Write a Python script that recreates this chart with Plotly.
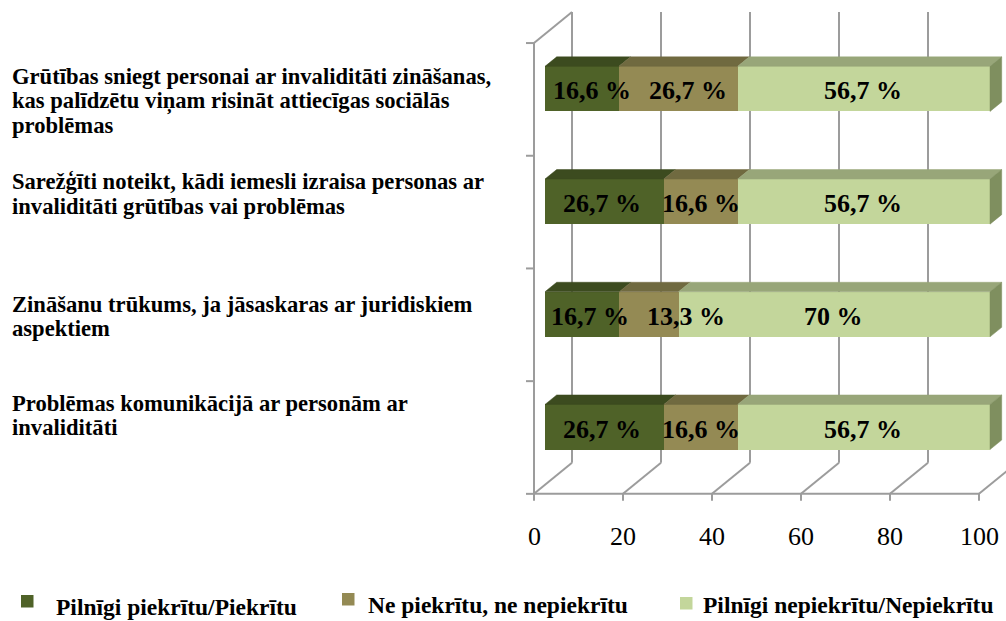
import plotly.graph_objects as go

# ---------------- data ----------------
categories = [
    "Grūtības sniegt personai ar invaliditāti zināšanas,<br>kas palīdzētu viņam risināt attiecīgas sociālās<br>problēmas",
    "Sarežģīti noteikt, kādi iemesli izraisa personas ar<br>invaliditāti grūtības vai problēmas",
    "Zināšanu trūkums, ja jāsaskaras ar juridiskiem<br>aspektiem",
    "Problēmas komunikācijā ar personām ar<br>invaliditāti",
]
agree = [16.6, 26.7, 16.7, 26.7]
neutral = [26.7, 16.6, 13.3, 16.6]
disagree = [56.7, 56.7, 70, 56.7]
series_names = ["Pilnīgi piekrītu/Piekrītu", "Ne piekrītu, ne nepiekrītu",
                "Pilnīgi nepiekrītu/Nepiekrītu"]
x_ticks = [0, 20, 40, 60, 80, 100]

# ---------------- styling / geometry ----------------
FRONT = ["#4f6228", "#948a54", "#c3d69b"]
TOP = ["#3c4b1f", "#706a40", "#98a679"]
SIDE = "#7f8f5f"
GRID = "#9c9c9c"
SERIF = "Liberation Serif, Times New Roman, serif"

W, H = 1006, 621
PL, PT, PR, PB = 520, 0, 1006, 510      # plot area in pixels
OX, OY = 545, 427                        # px of value 0 / category 0 (bar front plane)
KX, KY = 4.45, 112.7                     # px per value unit / per category
BAR_W = 0.4
DEPTH = (11.7, 9.5)                      # bar depth offset (px right, px up)
WALL_FRONT = (-11, -10.5)                # front plane of walls rel. to bar plane
WALL_BACK = (27, 20.5)                   # back plane of walls rel. to bar plane

# label nudges (px)
seg_label_dx = [[10, 10, -1], [-2, 0, -1], [8, 37, -1], [-2, 0, -1]]
cat_label_dy = [-12, -20, -10, -24]
LINE_PITCH = 24.5


def dx(px):
    return px / KX


def dy(px):
    return px / KY


def to_px(v):
    return OX + KX * v


def to_py(c):
    return OY - KY * c


def paper_x(px):
    return (px - PL) / (PR - PL)


def paper_y(py):
    return (PB - py) / (PB - PT)


n = len(categories)
ypos = [n - 1 - i for i in range(n)]
series = [agree, neutral, disagree]

fig = go.Figure()
for s, vals in enumerate(series):
    fig.add_trace(go.Bar(
        y=ypos, x=vals, orientation="h", width=BAR_W, name=series_names[s],
        marker=dict(color=FRONT[s], line=dict(width=0)),
        showlegend=False, hoverinfo="skip",
    ))

shapes = []


def gline(x0, y0, x1, y1):
    shapes.append(dict(type="line", xref="x", yref="y", x0=x0, y0=y0, x1=x1, y1=y1,
                       line=dict(color=GRID, width=2), layer="below"))


fx, fy = dx(WALL_FRONT[0]), dy(WALL_FRONT[1])
bx, by = dx(WALL_BACK[0]), dy(WALL_BACK[1])
c_lo, c_hi = -0.5, n - 0.5

# floor front edge
gline(x_ticks[0] + fx, c_lo + fy, x_ticks[-1] + fx, c_lo + fy)
for t in x_ticks:
    gline(t + fx, c_lo + fy, t + bx, c_lo + by)           # floor grid
    gline(t + bx, c_lo + by, t + bx, c_hi + by)           # back wall grid
    gline(t + fx, c_lo + fy, t + fx, c_lo + fy - dy(7))   # tick marks
# left wall
gline(x_ticks[0] + fx, c_lo + fy, x_ticks[0] + fx, c_hi + fy)
gline(x_ticks[0] + fx, c_hi + fy, x_ticks[0] + bx, c_hi + by)
for k in range(n + 1):
    b = c_lo + k
    gline(x_ticks[0] + fx - dx(8), b + fy, x_ticks[0] + fx, b + fy)

# 3D top and side faces of bars
ddx, ddy = dx(DEPTH[0]), dy(DEPTH[1])
annotations = []
for i in range(n):
    y = ypos[i]
    yt, yb = y + BAR_W / 2, y - BAR_W / 2
    left = 0
    for s, vals in enumerate(series):
        v = vals[i]
        x0, x1 = left, left + v
        path = (f"M{x0},{yt} L{x1},{yt} L{x1 + ddx},{yt + ddy} "
                f"L{x0 + ddx},{yt + ddy} Z")
        shapes.append(dict(type="path", xref="x", yref="y", path=path,
                           fillcolor=TOP[s], line=dict(color=TOP[s], width=0.5),
                           layer="above"))
        txt = f"{v:g}".replace(".", ",") + " %"
        cx = to_px(left + v / 2) + seg_label_dx[i][s]
        cy = to_py(y) + 2
        annotations.append(dict(
            xref="paper", yref="paper", x=paper_x(cx), y=paper_y(cy),
            text=txt, showarrow=False, xanchor="center", yanchor="middle",
            font=dict(family=SERIF, size=26, color="#000000", weight="bold")))
        left = x1
    path = (f"M{left},{yb} L{left},{yt} L{left + ddx},{yt + ddy} "
            f"L{left + ddx},{yb + ddy} Z")
    shapes.append(dict(type="path", xref="x", yref="y", path=path,
                       fillcolor=SIDE, line=dict(color=SIDE, width=0.5), layer="above"))

    # category labels, left aligned, line by line
    for j, line_txt in enumerate(categories[i].split("<br>")):
        cy = to_py(y) + cat_label_dy[i] + j * LINE_PITCH
        annotations.append(dict(
            xref="paper", yref="paper", x=paper_x(10), y=paper_y(cy),
            text=line_txt, showarrow=False, xanchor="left", yanchor="middle",
            font=dict(family=SERIF, size=22.6, color="#000000", weight="bold")))

# x tick labels (front floor)
for t in x_ticks:
    annotations.append(dict(
        xref="paper", yref="paper", x=paper_x(to_px(t) + WALL_FRONT[0]), y=paper_y(536),
        text=str(t), showarrow=False, xanchor="center", yanchor="middle",
        font=dict(family=SERIF, size=26, color="#000000")))

# legend (drawn manually to match the original placement)
leg_square = [(21, 595), (342, 593), (680, 597)]
leg_text = [(54, 614), (366, 612), (701, 612)]
LEG_FS = 23.5
for s in range(3):
    sx, sy = leg_square[s]
    shapes.append(dict(type="rect", xref="paper", yref="paper",
                       x0=paper_x(sx), x1=paper_x(sx + 12.5),
                       y0=paper_y(sy), y1=paper_y(sy + 12.5),
                       fillcolor=FRONT[s], line=dict(width=0), layer="above"))
    tx, tb = leg_text[s]
    annotations.append(dict(
        xref="paper", yref="paper", x=paper_x(tx), y=paper_y(tb - 0.3 * LEG_FS),
        text=series_names[s], showarrow=False, xanchor="left", yanchor="middle",
        font=dict(family=SERIF, size=LEG_FS, color="#000000", weight="bold")))

fig.update_layout(
    width=W, height=H,
    margin=dict(l=PL, r=W - PR, t=PT, b=H - PB, pad=0),
    barmode="stack",
    plot_bgcolor="white", paper_bgcolor="white",
    xaxis=dict(range=[(PL - OX) / KX, (PR - OX) / KX], visible=False, fixedrange=True),
    yaxis=dict(range=[(OY - PB) / KY, (OY - PT) / KY], visible=False, fixedrange=True),
    shapes=shapes, annotations=annotations,
    hovermode=False,
)

fig.write_html(
    "out.html",
    config={"displayModeBar": False},
    post_script="document.body.style.margin='0px';document.body.style.overflow='hidden';",
)
